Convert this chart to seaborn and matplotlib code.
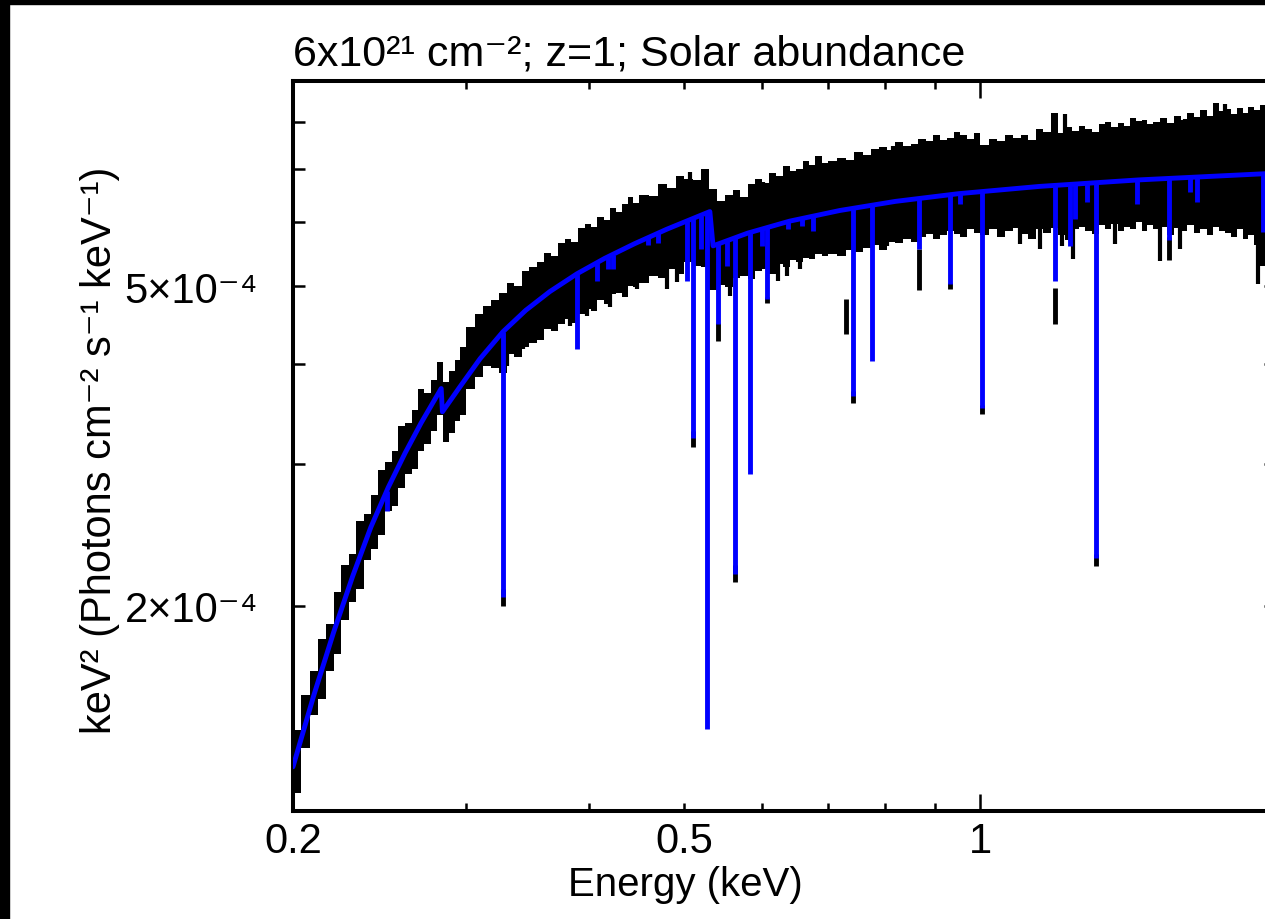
import numpy as np
import matplotlib
matplotlib.use("Agg")
import matplotlib.pyplot as plt
from matplotlib.patches import Rectangle
from matplotlib.ticker import FixedLocator, FixedFormatter, NullFormatter
import seaborn as sns
import pandas as pd

sns.set_theme(style="ticks")
plt.rcParams['font.family'] = ['Liberation Sans', 'DejaVu Sans']

UNIT = 1e-4  # all fluxes below are in units of 1e-4 keV^2 photons cm^-2 s^-1 keV^-1

# ---------------- model continuum (blue) ----------------
MODEL_E = [0.200, 0.210, 0.220, 0.230, 0.240, 0.250, 0.260, 0.270, 0.283, 0.2838,
           0.295, 0.310, 0.327, 0.345, 0.365, 0.389, 0.415, 0.445, 0.480, 0.531,
           0.535, 0.580, 0.640, 0.720, 0.820, 0.950, 1.150, 1.450, 2.000]
MODEL_F = [1.26, 1.547, 1.854, 2.176, 2.504, 2.807, 3.096, 3.377, 3.727, 3.486,
           3.73, 4.06, 4.385, 4.664, 4.921, 5.179, 5.412, 5.644, 5.884, 6.19,
           5.61, 5.818, 6.022, 6.209, 6.373, 6.515, 6.653, 6.778, 6.91]

# ---------------- absorption lines in the model ----------------
LINE_E = [0.249, 0.327, 0.389, 0.408, 0.418, 0.423, 0.459, 0.470, 0.503, 0.5105,
          0.5198, 0.5276, 0.5414, 0.5528, 0.5631, 0.5833, 0.600, 0.607, 0.638,
          0.659, 0.676, 0.7425, 0.776, 0.8667, 0.932, 0.954, 1.004, 1.192, 1.234,
          1.248, 1.285, 1.312, 1.444, 1.557, 1.635, 1.662, 1.940]
LINE_TOP = [2.78, 4.385, 5.18, 5.35, 5.43, 5.46, 5.75, 5.82, 6.03, 6.07,
            6.12, 6.17, 5.64, 5.69, 5.74, 5.83, 5.89, 5.91, 6.02,
            6.07, 6.12, 6.24, 6.30, 6.41, 6.50, 6.52, 6.55, 6.67, 6.69,
            6.70, 6.71, 6.72, 6.78, 6.80, 6.82, 6.83, 6.90]
LINE_BOT = [2.62, 2.05, 4.18, 5.07, 5.25, 5.25, 5.62, 5.66, 5.07, 3.23,
            5.56, 1.406, 4.48, 5.30, 2.19, 2.92, 5.61, 4.82, 5.89,
            5.94, 5.85, 3.65, 4.03, 5.56, 5.03, 6.32, 3.52, 5.07, 5.61,
            6.06, 6.36, 2.29, 6.33, 5.70, 6.55, 6.37, 5.83]

# ---------------- data (black): bin edges and upper / lower envelope ----------------
BIN_EDGES = [
    0.200, 0.204, 0.208, 0.212, 0.216, 0.220, 0.224, 0.228, 0.232, 0.236,
    0.240, 0.244, 0.248, 0.252, 0.256, 0.260, 0.264, 0.268, 0.272, 0.276,
    0.280, 0.284, 0.288, 0.292, 0.296,
    0.300, 0.306, 0.312, 0.318, 0.324, 0.330, 0.336, 0.342, 0.348, 0.354,
    0.360, 0.366, 0.372, 0.378, 0.384, 0.390, 0.396, 0.402, 0.408, 0.414,
    0.420, 0.426, 0.432, 0.438, 0.444,
    0.450, 0.460, 0.470, 0.480, 0.490, 0.500, 0.510, 0.520, 0.530, 0.540,
    0.550, 0.560, 0.570, 0.580, 0.590, 0.600, 0.610, 0.620, 0.630, 0.640,
    0.650, 0.660, 0.670, 0.680, 0.690,
    0.700, 0.715, 0.730, 0.745, 0.760, 0.775, 0.790, 0.805, 0.820, 0.835,
    0.850, 0.865, 0.880, 0.895, 0.910, 0.925, 0.940, 0.955, 0.970, 0.985,
    1.00, 1.02, 1.04, 1.06, 1.08, 1.10, 1.12, 1.14, 1.16, 1.18,
    1.20, 1.22, 1.24, 1.26, 1.28, 1.30, 1.32, 1.34, 1.36, 1.38,
    1.40, 1.42, 1.44, 1.46, 1.48,
    1.500, 1.525, 1.550, 1.575, 1.600, 1.625, 1.650, 1.675, 1.700, 1.725,
    1.750, 1.775, 1.800, 1.825, 1.850, 1.875, 1.900, 1.925, 1.950, 1.975,
    2.000]

DATA_HI = [
    1.40, 1.55, 1.66, 1.82, 1.90, 2.08, 2.25, 2.32, 2.55, 2.60,
    2.75, 2.95, 3.02, 3.12, 3.35, 3.38, 3.50, 3.72, 3.68, 3.82,
    4.02, 3.80, 3.92, 4.05, 4.20,
    4.45, 4.62, 4.72, 4.80, 4.90, 5.05, 5.00, 5.22, 5.28, 5.35,
    5.50, 5.45, 5.65, 5.72, 5.68, 5.90, 5.98, 5.92, 6.10, 6.05,
    6.25, 6.18, 6.32, 6.45, 6.35,
    6.50, 6.48, 6.70, 6.62, 6.85, 6.80, 6.78, 7.00, 6.60, 6.38,
    6.50, 6.58, 6.45, 6.70, 6.80, 6.72, 6.92, 6.85, 7.05, 6.95,
    7.00, 7.15, 7.08, 7.25, 7.12,
    7.15, 7.22, 7.18, 7.35, 7.28, 7.40, 7.45, 7.38, 7.55, 7.48,
    7.52, 7.62, 7.58, 7.70, 7.60, 7.65, 7.78, 7.70, 7.62, 7.75,
    7.50, 7.62, 7.58, 7.70, 7.65, 7.72, 7.60, 7.85, 7.78, 8.20,
    7.75, 7.88, 7.80, 7.92, 7.85, 7.78, 7.95, 8.00, 7.88, 7.98,
    7.90, 8.10, 8.02, 8.05, 7.95,
    8.00, 8.10, 7.98, 8.15, 8.05, 8.20, 8.12, 8.28, 8.15, 8.45,
    8.25, 8.30, 8.18, 8.32, 8.22, 8.35, 8.28, 8.40, 8.25, 8.30]

DATA_LO = [
    1.17, 1.33, 1.46, 1.53, 1.66, 1.74, 1.92, 2.02, 2.10, 2.28,
    2.35, 2.45, 2.62, 2.66, 2.80, 2.92, 2.96, 3.12, 3.18, 3.30,
    3.45, 3.20, 3.28, 3.40, 3.45,
    3.72, 3.85, 3.98, 3.95, 3.90, 4.12, 4.08, 4.20, 4.25, 4.28,
    4.42, 4.40, 4.48, 4.55, 4.50, 4.62, 4.68, 4.65, 4.80, 4.75,
    4.88, 4.90, 4.85, 5.00, 4.98,
    5.05, 5.15, 5.12, 5.25, 5.18, 5.35, 5.30, 5.28, 4.95, 5.02,
    4.98, 5.12, 5.15, 5.10, 5.22, 5.25, 5.18, 5.32, 5.28, 5.38,
    5.35, 5.42, 5.40, 5.48, 5.45,
    5.48, 5.45, 5.55, 5.52, 5.58, 5.62, 5.55, 5.68, 5.65, 5.72,
    5.68, 5.75, 5.80, 5.72, 5.78, 5.85, 5.80, 5.76, 5.88, 5.82,
    5.78, 5.88, 5.75, 5.85, 5.90, 5.80, 5.72, 5.88, 5.82, 5.90,
    5.78, 5.70, 5.88, 5.92, 5.85, 5.80, 5.95, 5.88, 5.98, 5.85,
    5.92, 5.88, 6.00, 5.85, 5.95,
    5.88, 5.92, 5.78, 5.90, 5.85, 5.95, 5.82, 5.88, 5.78, 5.92,
    5.85, 5.82, 5.75, 5.88, 5.72, 5.78, 5.62, 5.30, 5.50, 5.65]

# narrow data bins that fall inside the deep lines (black caps under the lines)
CAP_E = [0.327, 0.5105, 0.5414, 0.5631, 0.607, 0.730, 0.7425, 0.8667, 0.932,
         1.004, 1.192, 1.312, 1.557]
CAP_LO = [2.00, 3.15, 4.27, 2.14, 4.76, 4.36, 3.58, 4.94, 4.96,
          3.46, 4.49, 2.24, 5.38]
CAP_HI = [2.10, 3.30, 4.50, 2.25, 4.85, 4.82, 3.70, 5.56, 5.05,
          3.55, 4.97, 2.32, 5.75]

# single narrow data bins that stick out of the band (outliers)
SPIKE_E = [0.3171, 0.3302, 0.3428, 0.3826, 0.3981, 0.4204, 0.4478, 0.4803, 0.4918,
           0.5567, 0.5700, 0.6230, 0.6365, 0.6561, 0.8040, 1.098, 1.150, 1.211,
           1.243, 1.372, 1.525, 1.597, 1.917,
           0.4375, 0.5069, 0.6010, 0.8153, 0.8749, 0.9538, 1.220, 1.616, 1.774, 1.860]
SPIKE_LO = [3.98, 3.98, 4.17, 4.46, 4.59, 4.71, 4.96, 4.96, 5.06,
            4.86, 5.25, 5.07, 5.15, 5.25, 5.61, 5.64, 5.56, 5.61,
            5.40, 5.64, 5.37, 5.56, 5.03,
            5.60, 6.00, 5.90, 6.40, 6.40, 6.50, 6.60, 6.80, 6.80, 6.80]
SPIKE_HI = [4.30, 4.40, 4.60, 5.10, 5.20, 5.40, 5.60, 5.80, 5.90,
            5.60, 5.70, 5.90, 6.00, 6.00, 6.30, 6.50, 6.50, 6.60,
            6.60, 6.70, 6.70, 6.70, 6.80,
            6.11, 6.93, 6.74, 7.47, 7.36, 7.31, 8.18, 8.07, 8.42, 8.13]

TITLE = "6x10²¹ cm⁻²; z=1; Solar abundance"
XLABEL = "Energy (keV)"
YLABEL = "keV² (Photons cm⁻² s⁻¹ keV⁻¹)"
X_TICKS = [0.2, 0.5, 1.0]
X_TICKLABELS = ["0.2", "0.5", "1"]
X_MINOR = [0.3, 0.4, 0.6, 0.7, 0.8, 0.9, 2.0]
Y_TICKS = [2e-4, 5e-4]
Y_TICKLABELS = ["2×10⁻⁴", "5×10⁻⁴"]
Y_MINOR = [3e-4, 4e-4, 6e-4, 7e-4, 8e-4]

BLUE = "#0000ff"
FS = 30

fig = plt.figure(figsize=(12.65, 9.2), dpi=100)
fig.patch.set_facecolor("white")
W, H = 1265, 920
ax = fig.add_axes([293 / W, (H - 812) / H, 983 / W, 730 / H])
ax.set_facecolor("white")
ax.set_xscale("log")
ax.set_yscale("log")

# data envelope
ax.stairs(np.array(DATA_HI) * UNIT, BIN_EDGES, baseline=np.array(DATA_LO) * UNIT,
          fill=True, color="black", linewidth=0, zorder=2)
ax.vlines(CAP_E, np.array(CAP_LO) * UNIT, np.array(CAP_HI) * UNIT,
          color="black", linewidth=3.5, zorder=2)
ax.vlines(SPIKE_E, np.array(SPIKE_LO) * UNIT, np.array(SPIKE_HI) * UNIT,
          color="black", linewidth=3.0, zorder=2)

# model
model_df = pd.DataFrame({"E": MODEL_E, "F": np.array(MODEL_F) * UNIT})
sns.lineplot(data=model_df, x="E", y="F", sort=False, estimator=None,
             color=BLUE, linewidth=3.5, ax=ax, zorder=3)
ax.vlines(LINE_E, np.array(LINE_BOT) * UNIT, np.array(LINE_TOP) * UNIT,
          color=BLUE, linewidth=3.5, zorder=3)

ax.set_xlim(0.2, 2.0)
ax.set_ylim(1.11e-4, 9.0e-4)

# ticks
ax.xaxis.set_major_locator(FixedLocator(X_TICKS))
ax.xaxis.set_major_formatter(FixedFormatter(X_TICKLABELS))
ax.xaxis.set_minor_locator(FixedLocator(X_MINOR))
ax.xaxis.set_minor_formatter(NullFormatter())
ax.yaxis.set_major_locator(FixedLocator(Y_TICKS))
ax.yaxis.set_major_formatter(FixedFormatter(Y_TICKLABELS))
ax.yaxis.set_minor_locator(FixedLocator(Y_MINOR))
ax.yaxis.set_minor_formatter(NullFormatter())

ax.tick_params(axis="x", which="both", direction="in", top=True, bottom=True,
               width=1.8, length=5.8, labelsize=FS, pad=7, colors="black")
ax.tick_params(axis="y", which="both", direction="in", left=True, right=True,
               width=1.8, length=8.6, labelsize=FS, pad=25, colors="black")
for t in ax.xaxis.get_major_ticks():
    if abs(t.get_loc() - 1.0) < 1e-9:
        t.tick1line.set_markersize(12)
        t.tick2line.set_markersize(12)

for s in ax.spines.values():
    s.set_linewidth(2.9)
    s.set_color("black")

ax.set_xlabel(XLABEL, fontsize=29, color="black")
ax.xaxis.set_label_coords((685 - 293) / 983, (812 - 885) / 730)
ax.xaxis.label.set_va("center")
ax.set_ylabel(YLABEL, fontsize=FS, color="black")
ax.yaxis.set_label_coords((100 - 293) / 983, (812 - 450) / 730)
ax.yaxis.label.set_va("center")
ax.set_title(TITLE, loc="left", fontsize=31, pad=12, color="black")

# black frame strips at top and left of the image
fig.patches.append(Rectangle((0, 0), 9 / W, 1, transform=fig.transFigure,
                             color="black", zorder=10))
fig.patches.append(Rectangle((0, 1 - 5 / H), 1, 5 / H, transform=fig.transFigure,
                             color="black", zorder=10))

fig.savefig("out.png", dpi=100)
